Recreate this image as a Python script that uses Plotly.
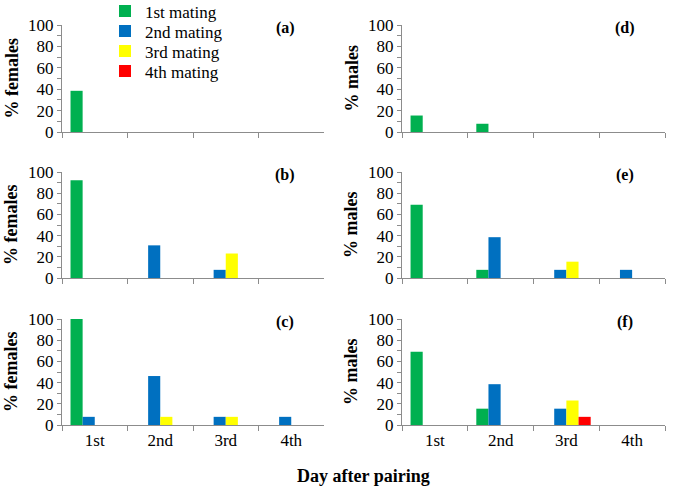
import plotly.graph_objects as go

days = ["1st", "2nd", "3rd", "4th"]
series_names = ["1st mating", "2nd mating", "3rd mating", "4th mating"]
colors = ["#00B050", "#0070C0", "#FFFF00", "#FF0000"]

# panel values: each panel -> list of 4 series (per mating), each over 4 days
panel_a = [[38.5, 0, 0, 0], [0, 0, 0, 0], [0, 0, 0, 0], [0, 0, 0, 0]]
panel_b = [[92.3, 0, 0, 0], [0, 30.8, 7.7, 0], [0, 0, 23.1, 0], [0, 0, 0, 0]]
panel_c = [[100, 0, 0, 0], [7.7, 46.2, 7.7, 7.7], [0, 7.7, 7.7, 0], [0, 0, 0, 0]]
panel_d = [[15.4, 7.7, 0, 0], [0, 0, 0, 0], [0, 0, 0, 0], [0, 0, 0, 0]]
panel_e = [[69.2, 7.7, 0, 0], [0, 38.5, 7.7, 7.7], [0, 0, 15.4, 0], [0, 0, 0, 0]]
panel_f = [[69.2, 15.4, 0, 0], [0, 38.5, 15.4, 0], [0, 0, 23.1, 0], [0, 0, 7.7, 0]]

panel_labels = ["(a)", "(b)", "(c)", "(d)", "(e)", "(f)"]
y_titles = ["% females"] * 3 + ["% males"] * 3
panels = [panel_a, panel_b, panel_c, panel_d, panel_e, panel_f]

W, H = 685, 491
FONT = "'Times New Roman', 'Liberation Serif', serif"

# pixel geometry of the plotting areas
x_doms = [(62, 324), (402, 665)]
y_doms = [(25, 132), (172, 278), (319, 425)]
legend_rows = [11.5, 31.5, 51.5, 71.5]

def px_x(p):
    return p / W

def px_y(p):
    return 1 - p / H

fig = go.Figure()
layout = dict(
    width=W, height=H, margin=dict(l=0, r=0, t=0, b=0, autoexpand=False),
    paper_bgcolor="white", plot_bgcolor="white",
    barmode="group", bargap=0.26, bargroupgap=0,
    font=dict(family=FONT, size=17, color="black"),
    showlegend=True,
)
for s in range(4):
    key = "legend" if s == 0 else f"legend{s + 1}"
    layout[key] = dict(
        x=px_x(105), y=px_y(legend_rows[s]), xanchor="left", yanchor="middle",
        font=dict(family=FONT, size=17, color="black"),
        bgcolor="rgba(0,0,0,0)", borderwidth=0, itemwidth=30,
    )

annotations = []
for i, panel in enumerate(panels):
    col = i // 3
    row = i % 3
    idx = i + 1
    xa = "x" if idx == 1 else f"x{idx}"
    ya = "y" if idx == 1 else f"y{idx}"
    for s in range(4):
        fig.add_trace(go.Bar(
            x=days, y=panel[s], name=series_names[s],
            marker=dict(color=colors[s], line=dict(width=0)),
            xaxis=xa, yaxis=ya, showlegend=(i == 0),
            legend=("legend" if s == 0 else f"legend{s + 1}"),
        ))
    x0, x1 = x_doms[col]
    y0, y1 = y_doms[row]
    xkey = "xaxis" if idx == 1 else f"xaxis{idx}"
    ykey = "yaxis" if idx == 1 else f"yaxis{idx}"
    layout[xkey] = dict(
        domain=[px_x(x0), px_x(x1)], anchor=ya, type="category",
        categoryorder="array", categoryarray=days,
        showline=True, linecolor="#8c8c8c", linewidth=1,
        ticks="outside", tickson="boundaries", ticklen=5, tickcolor="#8c8c8c",
        showgrid=False, showticklabels=(row == 2),
        tickfont=dict(family=FONT, size=17, color="black"),
    )
    layout[ykey] = dict(
        domain=[px_y(y1), px_y(y0)], anchor=xa, range=[0, 100],
        tickvals=[0, 20, 40, 60, 80, 100],
        showline=True, linecolor="#8c8c8c", linewidth=1,
        ticks="outside", ticklen=4, tickcolor="#8c8c8c",
        minor=dict(tickvals=[10, 30, 50, 70, 90], ticks="outside", ticklen=4, tickcolor="#8c8c8c"),
        showgrid=False, zeroline=False,
        tickfont=dict(family=FONT, size=17, color="black"),
    )
    # panel label
    annotations.append(dict(
        text=f"<b>{panel_labels[i]}</b>", xref="paper", yref="paper",
        x=px_x(x0 + 223), y=px_y(y0 + 3), xanchor="center", yanchor="middle",
        showarrow=False, font=dict(family=FONT, size=16, color="black"),
    ))
    # y title
    annotations.append(dict(
        text=f"<b>{y_titles[i]}</b>", xref="paper", yref="paper",
        x=px_x(x0 - 51), y=px_y((y0 + y1) / 2), xanchor="center", yanchor="middle",
        textangle=-90, showarrow=False, font=dict(family=FONT, size=18, color="black"),
    ))

annotations.append(dict(
    text="<b>Day after pairing</b>", xref="paper", yref="paper",
    x=px_x(363), y=px_y(476), xanchor="center", yanchor="middle",
    showarrow=False, font=dict(family=FONT, size=18, color="black"),
))
layout["annotations"] = annotations
fig.update_layout(**layout)
fig.write_html("out.html", config={"displayModeBar": False},
               post_script="document.body.style.margin='0px';")
